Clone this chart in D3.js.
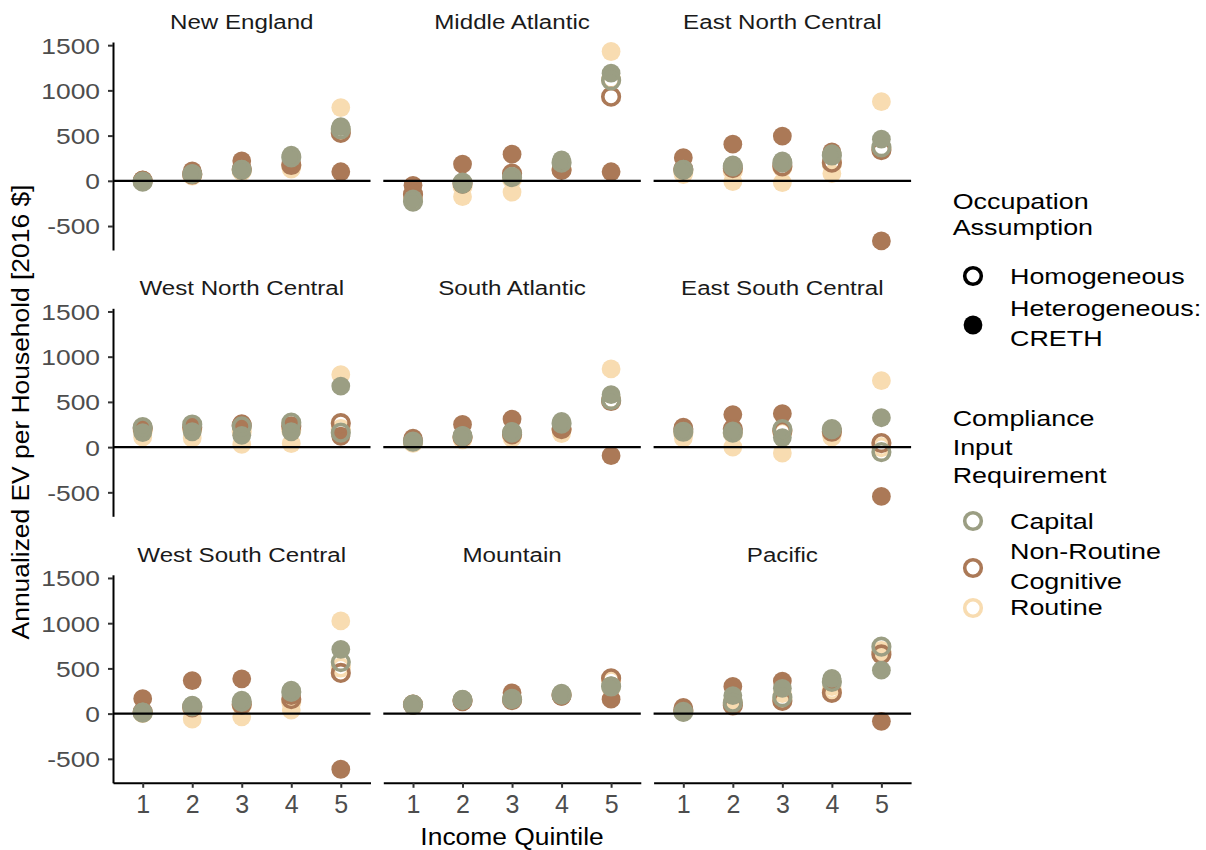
<!DOCTYPE html>
<html>
<head>
<meta charset="utf-8">
<script src="https://cdn.jsdelivr.net/npm/d3@7"></script>
<style>
  body { margin: 0; background: #ffffff; }
  text { font-family: "Liberation Sans", Arial, sans-serif; }
</style>
</head>
<body>
<script>
// Census divisions, one facet each
const regions = ["New England", "Middle Atlantic", "East North Central",
                 "West North Central", "South Atlantic", "East South Central",
                 "West South Central", "Mountain", "Pacific"];
const quintiles = [1, 2, 3, 4, 5];
const inputs = ["Capital", "Non-Routine Cognitive", "Routine"];
const inputLegendLabels = [["Capital"], ["Non-Routine", "Cognitive"], ["Routine"]];
const occupations = ["Homogeneous", "Heterogeneous: CRETH"];
const yTicks = [-500, 0, 500, 1000, 1500];

// Annualized EV per household [2016 $], one row per region, one value per quintile
// Heterogeneous (CRETH) occupation assumption
const hetCapital = [
  [-5, 80, 130, 285, 600],
  [-200, -40, 50, 230, 1190],
  [130, 175, 220, 300, 460],
  [160, 170, 130, 170, 675],
  [60, 130, 175, 285, 580],
  [175, 180, 105, 190, 325],
  [20, 95, 150, 260, 710],
  [105, 160, 170, 225, 310],
  [20, 200, 280, 390, 480]
];
const hetNRC = [
  [10, 110, 220, 180, 100],
  [-50, 185, 295, 140, 100],
  [255, 405, 495, 320, -665],
  [200, 240, 260, 230, 120],
  [100, 250, 310, 210, -95],
  [220, 360, 370, 200, -545],
  [165, 365, 385, 200, -615],
  [90, 130, 230, 190, 160],
  [70, 300, 360, 360, -85]
];
const hetRoutine = [
  [0, 60, 100, 130, 810],
  [-200, -175, -125, 150, 1430],
  [70, -10, -20, 80, 875],
  [110, 100, 30, 40, 800],
  [50, 80, 100, 150, 865],
  [100, 0, -65, 110, 735],
  [0, -60, -35, 40, 1025],
  [100, 140, 150, 200, 280],
  [20, 150, 220, 300, 690]
];
// Homogeneous occupation assumption
const homCapital = [
  [-10, 75, 120, 260, 570],
  [-230, -20, 40, 200, 1110],
  [120, 160, 200, 280, 370],
  [220, 250, 230, 270, 160],
  [60, 120, 160, 260, 520],
  [170, 160, 200, 200, -55],
  [10, 80, 130, 240, 570],
  [100, 150, 160, 210, 300],
  [20, 120, 180, 350, 740]
];
const homNRC = [
  [0, 70, 130, 175, 530],
  [-150, -30, 80, 120, 930],
  [130, 140, 160, 200, 340],
  [210, 220, 240, 230, 265],
  [70, 110, 140, 200, 510],
  [200, 200, 180, 170, 45],
  [20, 70, 100, 160, 450],
  [100, 140, 150, 200, 390],
  [40, 90, 140, 230, 655]
];
const homRoutine = [
  [0, 60, 110, 160, 550],
  [-200, -60, 20, 130, 1120],
  [100, 110, 150, 190, 360],
  [180, 200, 170, 190, 200],
  [50, 100, 130, 190, 520],
  [150, 150, 170, 160, 0],
  [10, 60, 90, 130, 510],
  [100, 150, 160, 210, 370],
  [30, 110, 160, 260, 690]
];

// Long-format rows; drawing order: Routine, Non-Routine Cognitive, Capital
const seriesTable = [
  { input: "Routine", occ: "Heterogeneous: CRETH", values: hetRoutine },
  { input: "Routine", occ: "Homogeneous", values: homRoutine },
  { input: "Non-Routine Cognitive", occ: "Heterogeneous: CRETH", values: hetNRC },
  { input: "Non-Routine Cognitive", occ: "Homogeneous", values: homNRC },
  { input: "Capital", occ: "Heterogeneous: CRETH", values: hetCapital },
  { input: "Capital", occ: "Homogeneous", values: homCapital }
];

const color = d3.scaleOrdinal()
  .domain(inputs)
  .range(["#9b9e83", "#ab7957", "#f8dcb1"]);

const W = 1206, H = 850;
const svg = d3.select("body").append("svg").attr("width", W).attr("height", H);

const panelW = 257.5, panelH = 208;
const colX = [113, 383.3, 653.6];
const rowY = [42, 308.3, 574.8];
const sx = 1.25; // horizontal text stretch for the legend

const y = d3.scaleLinear().domain([-765, 1535]).range([panelH, 0]);
const x = d3.scalePoint().domain(quintiles).range([0, panelW]).padding(0.6);

const rFilled = 9.4, rRing = 8.3, ringW = 3.6;

function label(parent, tx, ty, str, size, fill, anchor, scaleX) {
  return parent.append("text")
    .attr("transform", `translate(${tx},${ty}) scale(${scaleX},1)`)
    .attr("text-anchor", anchor)
    .attr("font-size", size)
    .attr("fill", fill)
    .text(str);
}

regions.forEach((region, i) => {
  const col = i % 3, row = Math.floor(i / 3);
  const g = svg.append("g").attr("transform", `translate(${colX[col]},${rowY[row]})`);

  // facet strip
  label(g, panelW / 2, -13, region, 21, "#1a1a1a", "middle", 1.15);

  // points
  seriesTable.forEach(s => {
    const pts = quintiles.map((q, k) => ({ q, v: s.values[i][k] }));
    const hollow = s.occ === "Homogeneous";
    g.append("g").selectAll("circle")
      .data(pts)
      .join("circle")
      .attr("cx", d => x(d.q))
      .attr("cy", d => y(d.v))
      .attr("r", hollow ? rRing : rFilled)
      .attr("fill", hollow ? "none" : color(s.input))
      .attr("stroke", hollow ? color(s.input) : "none")
      .attr("stroke-width", hollow ? ringW : 0);
  });

  // zero reference line
  g.append("line")
    .attr("x1", 0).attr("x2", panelW)
    .attr("y1", y(0)).attr("y2", y(0))
    .attr("stroke", "#000").attr("stroke-width", 2.2);

  // y axis on the first column
  if (col === 0) {
    const ax = g.append("g").call(
      d3.axisLeft(y).tickValues(yTicks).tickSize(5).tickSizeOuter(0)
        .tickFormat(d => String(d)));
    ax.select(".domain").attr("stroke", "#000").attr("stroke-width", 2);
    ax.selectAll(".tick line").attr("stroke", "#333").attr("stroke-width", 2);
    ax.selectAll(".tick text")
      .attr("x", -13 / 1.2).attr("dy", "0.36em")
      .attr("transform", "scale(1.2,1)")
      .attr("font-size", 22).attr("fill", "#4d4d4d")
      .attr("font-family", "Liberation Sans, Arial, sans-serif");
  }
  // x axis on the bottom row
  if (row === 2) {
    const ax = g.append("g").attr("transform", `translate(0,${panelH})`)
      .call(d3.axisBottom(x).tickSize(5).tickSizeOuter(0));
    ax.select(".domain").attr("stroke", "#000").attr("stroke-width", 2);
    ax.selectAll(".tick line").attr("stroke", "#333").attr("stroke-width", 2);
    ax.selectAll(".tick text")
      .attr("y", 30).attr("dy", 0)
      .attr("font-size", 25).attr("fill", "#4d4d4d")
      .attr("font-family", "Liberation Sans, Arial, sans-serif");
  }
});

// axis titles
label(svg, colX[1] + panelW / 2, 845, "Income Quintile", 24, "#000", "middle", 1.1);
svg.append("text")
  .attr("transform", "translate(29,412) rotate(-90) scale(1.1,1)")
  .attr("text-anchor", "middle")
  .attr("font-size", 24)
  .attr("fill", "#000")
  .text("Annualized EV per Household [2016 $]");

// legends
const lg = svg.append("g");
const lx = 952.7, symX = 973, txtX = 1010, lfs = 21.5;
label(lg, lx, 209, "Occupation", lfs, "#000", "start", sx);
label(lg, lx, 235, "Assumption", lfs, "#000", "start", sx);

lg.append("circle").attr("cx", symX).attr("cy", 276).attr("r", rRing)
  .attr("fill", "none").attr("stroke", "#000").attr("stroke-width", ringW);
label(lg, txtX, 284, occupations[0], lfs, "#000", "start", sx);
lg.append("circle").attr("cx", symX).attr("cy", 325).attr("r", rFilled).attr("fill", "#000");
label(lg, txtX, 316, "Heterogeneous:", lfs, "#000", "start", sx);
label(lg, txtX, 346, "CRETH", lfs, "#000", "start", sx);

label(lg, lx, 426, "Compliance", lfs, "#000", "start", sx);
label(lg, lx, 455, "Input", lfs, "#000", "start", sx);
label(lg, lx, 483, "Requirement", lfs, "#000", "start", sx);

const legendRows = [
  { sy: 521, lines: [529] },
  { sy: 568, lines: [559, 589] },
  { sy: 608, lines: [615] }
];
inputs.forEach((inp, k) => {
  const r = legendRows[k];
  lg.append("circle").attr("cx", symX).attr("cy", r.sy).attr("r", rRing)
    .attr("fill", "none").attr("stroke", color(inp)).attr("stroke-width", ringW);
  inputLegendLabels[k].forEach((t, j) => label(lg, txtX, r.lines[j], t, lfs, "#000", "start", sx));
});
</script>
</body>
</html>
